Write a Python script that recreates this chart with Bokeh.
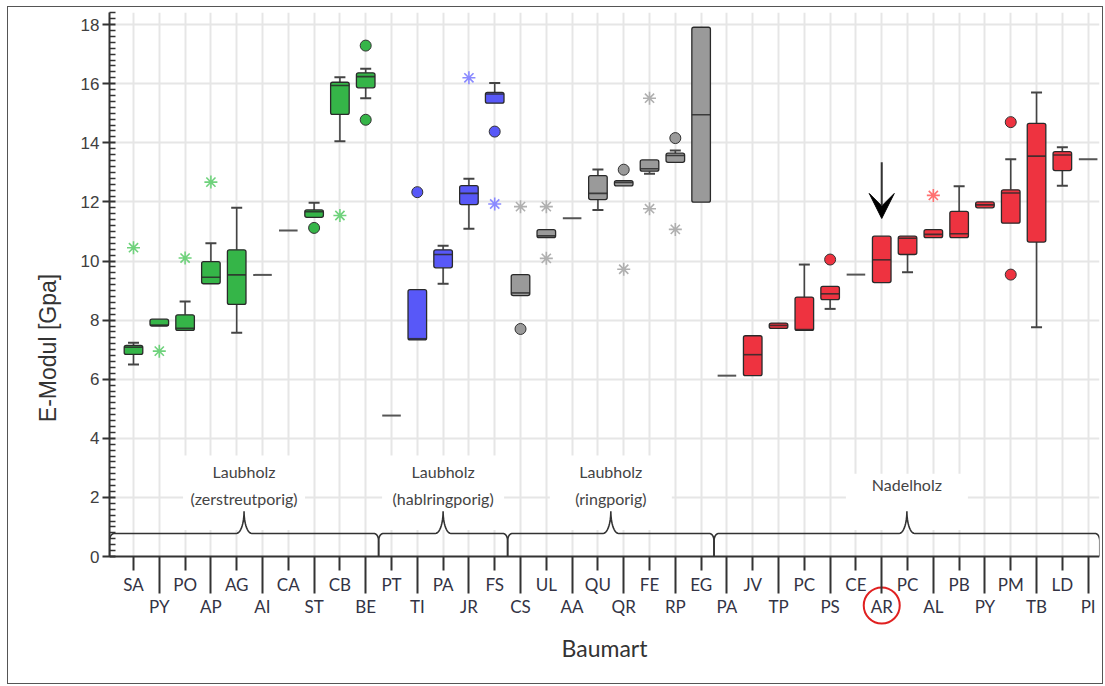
import numpy as np
from bokeh.plotting import figure
from bokeh.models import (LinearAxis, FixedTicker, Range1d, Arrow, VeeHead, Grid, BoxAnnotation)
from bokeh.core.properties import value
from bokeh.embed import file_html
from bokeh.resources import INLINE

nan = np.nan

# ---------------- data ----------------
species = ["SA", "PY", "PO", "AP", "AG", "AI", "CA", "ST", "CB", "BE",
           "PT", "TI", "PA", "JR", "FS",
           "CS", "UL", "AA", "QU", "QR", "FE", "RP", "EG",
           "PA", "JV", "TP", "PC", "PS", "CE", "AR", "PC", "AL", "PB", "PY", "PM", "TB", "LD", "PI"]

q1 = [6.84, 7.80, 7.65, 9.23, 8.53, nan, nan, 11.48, 14.96, 15.86,
      nan, 7.33, 9.77, 11.91, 15.34,
      8.83, 10.79, nan, 12.08, 12.54, 13.04, 13.34, 11.99,
      nan, 6.12, 7.72, 7.65, 8.69, nan, 9.27, 10.22, 10.79, 10.79, 11.80, 11.28, 10.64, 13.06, nan]
median = [7.08, 7.83, 7.72, 9.45, 9.53, 9.53, 11.03, 11.67, 15.94, 16.24,
          4.77, 7.37, 10.22, 12.29, 15.65,
          8.92, 10.85, 11.45, 12.29, 12.66, 13.12, 13.57, 14.95,
          6.12, 6.83, 7.82, 7.68, 8.89, 9.54, 10.04, 10.77, 10.90, 10.92, 11.90, 12.30, 13.55, 13.59, 13.44]
q3 = [7.14, 8.03, 8.18, 9.98, 10.38, nan, nan, 11.73, 16.05, 16.37,
      nan, 9.03, 10.38, 12.55, 15.71,
      9.54, 11.06, nan, 12.89, 12.72, 13.42, 13.65, 17.91,
      nan, 7.47, 7.90, 8.78, 9.14, nan, 10.84, 10.84, 11.06, 11.68, 12.00, 12.41, 14.66, 13.70, nan]
whisker_lo = [6.50, nan, nan, nan, 7.57, nan, nan, nan, 14.05, 15.51,
              nan, nan, 9.23, 11.09, nan,
              nan, nan, nan, 11.73, nan, 12.95, nan, nan,
              nan, nan, nan, nan, 8.38, nan, nan, 9.62, nan, nan, nan, nan, 7.76, 12.55, nan]
whisker_hi = [7.23, nan, 8.63, 10.60, 11.80, nan, nan, 11.97, 16.22, 16.51,
              nan, nan, 10.52, 12.78, 16.02,
              nan, nan, nan, 13.10, nan, nan, 13.74, nan,
              nan, nan, nan, 9.88, nan, nan, nan, nan, nan, 12.53, nan, 13.44, 15.70, 13.85, nan]

circle_idx = [7, 9, 9, 11, 14, 15, 19, 21, 27, 34, 34]
circle_val = [11.12, 17.29, 14.78, 12.33, 14.38, 7.70, 13.09, 14.16, 10.05, 14.70, 9.54]

star_idx = [0, 1, 2, 3, 8, 13, 14, 15, 16, 16, 19, 20, 20, 21, 31]
star_val = [10.45, 6.95, 10.10, 12.67, 11.54, 16.20, 11.93, 11.84, 11.84, 10.09, 9.72, 15.51, 11.77, 11.07, 12.22]

group_names = ["Laubholz\n(zerstreutporig)", "Laubholz\n(hablringporig)", "Laubholz\n(ringporig)", "Nadelholz"]
group_first = [0, 10, 15, 23]
group_last = [9, 14, 22, 37]
group_color = ["#35b548", "#5858f8", "#9a9a9a", "#ee3340"]
group_star_color = ["#6fd27c", "#8a8aff", "#b0b0b0", "#ff7070"]

highlight = "AR"

# ---------------- derived ----------------
n = len(species)
idx = np.arange(n)
q1a, meda, q3a = np.array(q1), np.array(median), np.array(q3)
wlo, whi = np.array(whisker_lo), np.array(whisker_hi)
grp = np.searchsorted(group_first, idx, side="right") - 1
colors = [group_color[g] for g in grp]
has_box = ~np.isnan(q1a)
hw = 0.36

PX = 29.55            # pixels per E-Modul unit
YTOP = 18.41
YBOT = -127 / PX      # room for the category labels inside the frame
X0, X1 = -0.93, 37.44

p = figure(x_range=Range1d(X0, X1), y_range=Range1d(YBOT, YTOP),
           frame_width=990, frame_height=671,
           min_border_left=101, min_border_right=3, min_border_top=5, min_border_bottom=0,
           x_axis_type=None, y_axis_type=None,
           output_backend="svg", toolbar_location=None,
           styles={"border": "1px solid #555", "margin-left": "7px", "margin-top": "6px"})
p.outline_line_color = None
p.background_fill_color = "white"
p.border_fill_color = "white"

# grids
p.add_layout(Grid(dimension=0, ticker=FixedTicker(ticks=list(idx)),
                  grid_line_color="#e6e6e6", grid_line_width=2))
p.add_layout(Grid(dimension=1, ticker=FixedTicker(ticks=list(range(2, 19, 2))),
                  grid_line_color="#e6e6e6", grid_line_width=2))
# blank area below the value axis (hides grid lines there)
p.add_layout(BoxAnnotation(top=0, fill_color="white", fill_alpha=1, line_color=None,
                           level="underlay"))

# y axis
minor = [round(v, 1) for v in np.arange(0, YTOP, 0.2) if abs(v / 2 - round(v / 2)) > 1e-6]
ya = LinearAxis(ticker=FixedTicker(ticks=list(range(0, 19, 2)), minor_ticks=minor),
                bounds=(0, YTOP),
                axis_label="E-Modul [Gpa]",
                axis_line_color="#333333", axis_line_width=2,
                major_tick_out=7, major_tick_in=6, minor_tick_out=0, minor_tick_in=6,
                major_tick_line_color="#333333", major_tick_line_width=2,
                minor_tick_line_color="#333333", minor_tick_line_width=1.5,
                major_label_standoff=3,
                major_label_text_font="Liberation Sans", major_label_text_font_size="17px",
                major_label_text_color="#404040",
                axis_label_standoff=17,
                axis_label_text_font="Liberation Sans", axis_label_text_font_size="23px",
                axis_label_text_font_style="normal", axis_label_text_color="#333333")
p.add_layout(ya, "left")

# x axes (two rows of labels), both pinned at E-Modul = 0
even = [int(i) for i in idx if i % 2 == 0]
odd = [int(i) for i in idx if i % 2 == 1]
xa1 = LinearAxis(ticker=FixedTicker(ticks=even),
                 major_label_overrides={i: species[i] for i in even},
                 fixed_location=0,
                 axis_line_color="#333333", axis_line_width=2,
                 major_tick_out=14, major_tick_in=0, minor_tick_out=0, minor_tick_in=0,
                 major_tick_line_color="#333333", major_tick_line_width=2,
                 minor_tick_line_color=None,
                 major_label_standoff=3,
                 major_label_text_font="Lato", major_label_text_font_size="17px",
                 major_label_text_color="#333344")
p.add_layout(xa1, "below")
xa2 = LinearAxis(ticker=FixedTicker(ticks=odd),
                 major_label_overrides={i: species[i] for i in odd},
                 fixed_location=0,
                 axis_line_color=None,
                 major_tick_out=37, major_tick_in=0, minor_tick_out=0, minor_tick_in=0,
                 major_tick_line_color="#333333", major_tick_line_width=2,
                 minor_tick_line_color=None,
                 major_label_standoff=2,
                 major_label_text_font="Lato", major_label_text_font_size="17px",
                 major_label_text_color="#333344",
                 axis_label="Baumart", axis_label_standoff=14,
                 axis_label_text_font="Lato", axis_label_text_font_size="23px",
                 axis_label_text_font_style="normal", axis_label_text_color="#333333")
p.add_layout(xa2, "below")

# braces, label background boxes + group labels
mids, xs_b, ys_b = [], [], []
h, peak = 0.78, 1.53
for g in range(len(group_names)):
    lo = X0 if g == 0 else (group_last[g - 1] + group_first[g]) / 2
    hi = group_last[g] + 0.45 if g == len(group_names) - 1 else (group_last[g] + group_first[g + 1]) / 2
    m = (lo + hi) / 2
    mids.append(m)
    t = np.linspace(0, np.pi / 2, 14)
    rx, ry, tx = 0.18, 0.25, 0.3
    bx = [lo] + list(lo + rx - rx * np.cos(t)) + list(m - tx + tx * np.sin(t)) + \
         list(m + tx - tx * np.cos(t)) + list(hi - rx + rx * np.sin(t)) + [hi]
    by = [0] + list(h - ry + ry * np.sin(t)) + list(peak - (peak - h) * np.cos(t)) + \
         list(h + (peak - h) * (1 - np.sin(t))) + list(h - ry + ry * np.cos(t)) + [0]
    xs_b.append(bx)
    ys_b.append(by)

nlines = np.array([name.count("\n") + 1 for name in group_names])
box_top = 2.8 + 0.62 * (nlines - 1)
box_bot = 0.9
p.rect(x=mids, y=(box_top + box_bot) / 2, width=122, height=box_top - box_bot,
       width_units="screen", fill_color="white", line_color=None)
p.text(x=mids, y=[2.42] * len(mids), text=group_names, text_font=value("Lato"),
       text_font_size="16px", text_align="center", text_baseline="middle",
       text_line_height=1.45, text_color="#444444")
p.multi_line(xs_b, ys_b, line_color="#333333", line_width=1.6)

# whiskers
p.segment(x0=idx, y0=q3a, x1=idx, y1=whi, line_color="#444444", line_width=1.6)
p.segment(x0=idx, y0=q1a, x1=idx, y1=wlo, line_color="#444444", line_width=1.6)
p.scatter(x=idx, y=whi, marker="dash", size=11, line_color="#444444", line_width=2)
p.scatter(x=idx, y=wlo, marker="dash", size=11, line_color="#444444", line_width=2)

# boxes
p.vbar(x=idx[has_box], width=2 * hw, top=q3a[has_box], bottom=q1a[has_box],
       fill_color=[c for c, b in zip(colors, has_box) if b], line_color="#2a2a2a",
       line_width=1.3, border_radius=2)
# medians
p.segment(x0=idx[has_box] - hw, x1=idx[has_box] + hw, y0=meda[has_box], y1=meda[has_box],
          line_color="#2a2a2a", line_width=1.6, line_alpha=0.85)
single = ~has_box
p.segment(x0=idx[single] - hw, x1=idx[single] + hw, y0=meda[single], y1=meda[single],
          line_color="#555555", line_width=2)

# outliers
p.scatter(x=circle_idx, y=circle_val, marker="circle", size=11,
          fill_color=[group_color[grp[i]] for i in circle_idx], line_color="#333333", line_width=1)
p.scatter(x=star_idx, y=star_val, marker="asterisk", size=13,
          line_color=[group_star_color[grp[i]] for i in star_idx], line_width=1.6)

# highlight: arrow above the box, red ring around its category label
hi_i = species.index(highlight)
tip = q3a[hi_i] + 0.6
p.add_layout(Arrow(end=VeeHead(size=25, fill_color="black", line_color="black"),
                   x_start=hi_i, y_start=tip + 1.9, x_end=hi_i, y_end=tip,
                   line_color="#333333", line_width=2))
p.scatter(x=[hi_i], y=[-49 / PX], marker="circle", size=36, fill_color=None,
          line_color="#e02020", line_width=2)

open("out.html", "w").write(file_html(p, INLINE))
